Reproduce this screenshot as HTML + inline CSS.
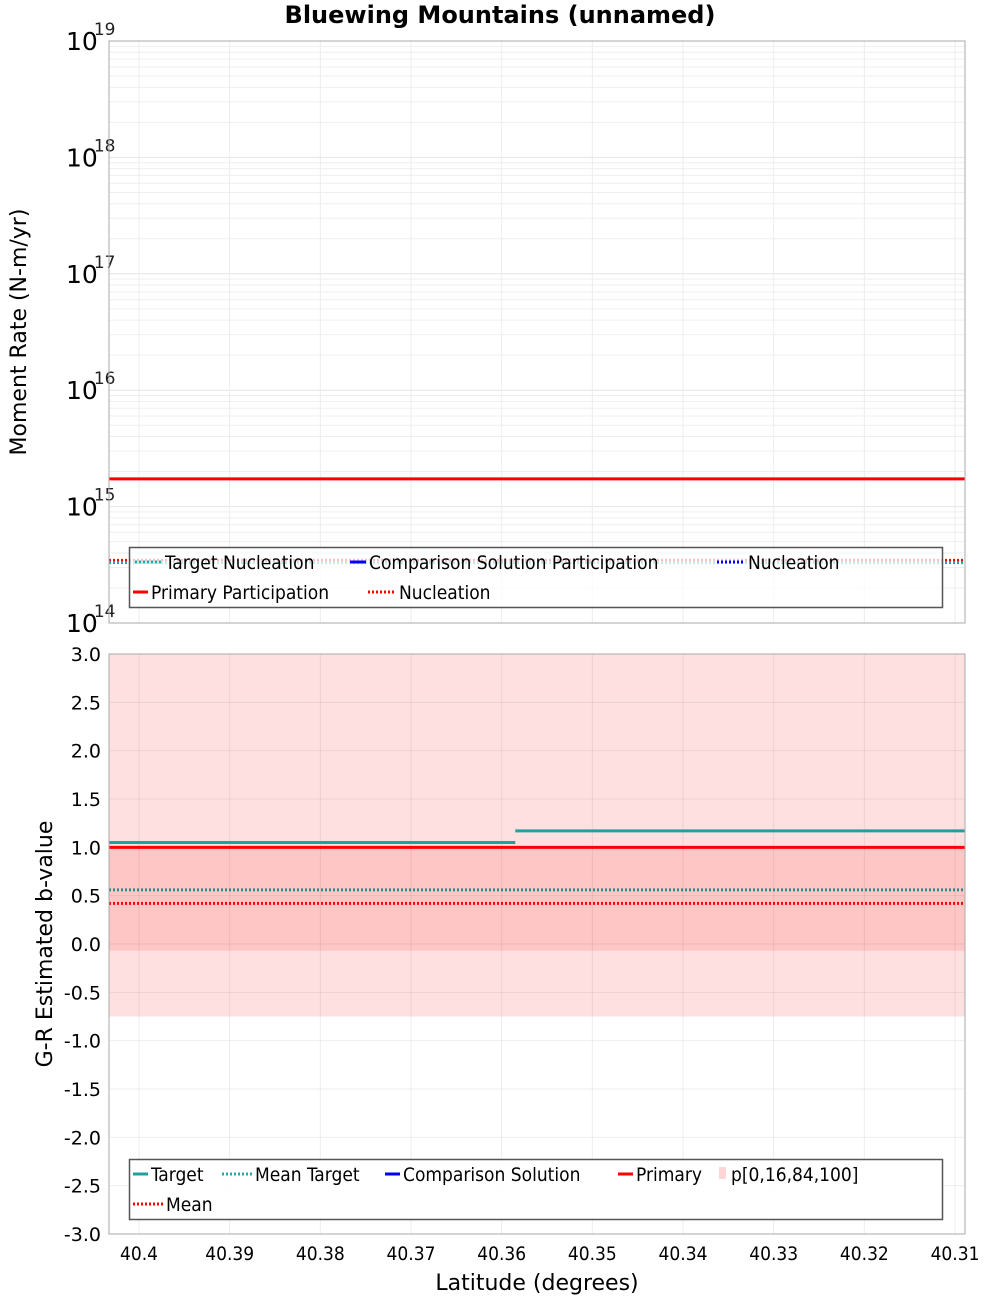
<!DOCTYPE html>
<html><head><meta charset="utf-8"><style>
body{margin:0;background:#fff;}
svg{display:block;font-family:"DejaVu Sans","Liberation Sans",sans-serif;}
.leg{font-family:"DejaVu Sans Condensed","DejaVu Sans",sans-serif;font-size:19px;}
</style></head><body>
<svg id="chart" width="1000" height="1300" viewBox="0 0 1000 1300" xmlns="http://www.w3.org/2000/svg">
<text x="500" y="23" text-anchor="middle" font-weight="bold" font-size="24">Bluewing Mountains (unnamed)</text>
<g id="topPlot"></g><g id="botPlot"></g>
<text transform="translate(26,332) rotate(-90)" text-anchor="middle" font-size="22">Moment Rate (N-m/yr)</text>
<text transform="translate(52,944) rotate(-90)" text-anchor="middle" font-size="22">G-R Estimated b-value</text>
<text x="537" y="1290" text-anchor="middle" font-size="22">Latitude (degrees)</text>
</svg>
<script>
const xTicks=[40.4,40.39,40.38,40.37,40.36,40.35,40.34,40.33,40.32,40.31];
const xTickLabels=["40.4","40.39","40.38","40.37","40.36","40.35","40.34","40.33","40.32","40.31"];
const topDecades=[14,15,16,17,18,19];
const primaryParticipation=1.73e15;
const primaryNucleation=3.45e14;
const targetNucleation=3.3e14;
const bTicks=[3.0,2.5,2.0,1.5,1.0,0.5,0.0,-0.5,-1.0,-1.5,-2.0,-2.5,-3.0];
const bTickLabels=["3.0","2.5","2.0","1.5","1.0","0.5","0.0","-0.5","-1.0","-1.5","-2.0","-2.5","-3.0"];
const targetSegStarts=[40.4033,40.3585];
const targetSegEnds=[40.3585,40.3089];
const targetB=[1.05,1.17];
const primaryB=1.0;
const meanTargetB=0.56;
const meanPrimaryB=0.42;
const bandOuter=[3.0,-0.75];
const bandInner=[1.0,-0.07];

const NS="http://www.w3.org/2000/svg";
const L=109,R=965;
const xs=v=>139+(40.4-v)/0.01*90.67;
const T0=41,T1=623;
const ty=v=>T1-(Math.log10(v)-14)*(T1-T0)/5;
const B0=654,B1=1234;
const by=v=>B0+(3-v)*(B1-B0)/6;
function mk(p,tag,at,name,txt){const e=document.createElementNS(NS,tag);for(const k in at)e.setAttribute(k,at[k]);


if(txt!==undefined)e.textContent=txt;p.appendChild(e);return e;}
const topG=document.getElementById('topPlot'),botG=document.getElementById('botPlot');
for(const d of topDecades){for(let m=1;m<10;m++){if(d===19&&m>1)break;const y=ty(m*Math.pow(10,d));
mk(topG,'line',{x1:L,x2:R,y1:y,y2:y,stroke:m===1?'#e4e4e4':'#efefef','stroke-width':1},'top-grid-line');}}
for(const v of xTicks){const x=xs(v);mk(topG,'line',{x1:x,x2:x,y1:T0,y2:T1,stroke:'#ececec'},'top-x-grid-line');}
for(const d of topDecades){const y=ty(Math.pow(10,d));
const t=mk(topG,'text',{x:66,y:y+9,'font-size':25},'top-y-tick-label');t.textContent='10';
mk(t,'tspan',{dx:-4,dy:-15,'font-size':17,fill:'#222'},'top-y-tick-exponent',String(d));}
mk(topG,'line',{x1:L,x2:R,y1:ty(primaryNucleation),y2:ty(primaryNucleation),stroke:'#f00','stroke-width':3,'stroke-dasharray':'2 2'},'primary-nucleation-line');
mk(topG,'line',{x1:L,x2:R,y1:ty(targetNucleation),y2:ty(targetNucleation),stroke:'#2aa8a8','stroke-width':3,'stroke-dasharray':'2 2'},'target-nucleation-line');
mk(topG,'line',{x1:L,x2:R,y1:ty(primaryParticipation),y2:ty(primaryParticipation),stroke:'#f00','stroke-width':3},'primary-participation-line');
mk(topG,'rect',{x:L,y:T0,width:R-L,height:T1-T0,fill:'none',stroke:'#aaa'},'top-plot-frame');
const lg=mk(topG,'g',{class:'leg'},'top-legend');
mk(lg,'rect',{x:129.5,y:547.5,width:813,height:60,fill:'rgba(255,255,255,0.75)',stroke:'#555','stroke-width':1.5},'top-legend-box');
const tl=[[135,562,'#2aa8a8','2 2','Target Nucleation',165],[350,562,'#00f',null,'Comparison Solution Participation',369],[717,562,'#00f','2 2','Nucleation',748],[133,592,'#f00',null,'Primary Participation',151],[368,592,'#f00','2 2','Nucleation',399]];
for(const e of tl){const at={x1:e[0],x2:e[5]-3,y1:e[1],y2:e[1],stroke:e[2],'stroke-width':3};if(e[3])at['stroke-dasharray']=e[3];
mk(lg,'line',at,'legend-swatch');mk(lg,'text',{x:e[5],y:e[1]+7},'legend-entry',e[4]);}
mk(botG,'rect',{x:L,y:by(bandOuter[0]),width:R-L,height:by(bandOuter[1])-by(bandOuter[0]),fill:'#ffe0e0'},'percentile-band-outer');
mk(botG,'rect',{x:L,y:by(bandInner[0]),width:R-L,height:by(bandInner[1])-by(bandInner[0]),fill:'#ffc6c6'},'percentile-band-inner');
for(let i=0;i<bTicks.length;i++){const y=by(bTicks[i]);
mk(botG,'line',{x1:L,x2:R,y1:y,y2:y,stroke:'rgba(0,0,0,0.07)'},'bottom-y-grid-line');
mk(botG,'text',{x:101,y:y+7,'text-anchor':'end','font-size':19},'bottom-y-tick-label',bTickLabels[i]);}
for(let i=0;i<xTicks.length;i++){const x=xs(xTicks[i]);
mk(botG,'line',{x1:x,x2:x,y1:B0,y2:B1,stroke:'rgba(0,0,0,0.07)'},'bottom-x-grid-line');
mk(botG,'text',{x:x,y:1260,'text-anchor':'middle','font-size':19,class:'leg'},'x-tick-label',xTickLabels[i]);}
mk(botG,'line',{x1:L,x2:R,y1:by(meanTargetB),y2:by(meanTargetB),stroke:'#2a8c8c','stroke-width':3,'stroke-dasharray':'2 2'},'mean-target-line');
mk(botG,'line',{x1:L,x2:R,y1:by(meanPrimaryB),y2:by(meanPrimaryB),stroke:'#f00','stroke-width':3,'stroke-dasharray':'2 2'},'mean-primary-line');
mk(botG,'line',{x1:L,x2:R,y1:by(primaryB),y2:by(primaryB),stroke:'#f00','stroke-width':3},'primary-b-line');
for(let i=0;i<targetB.length;i++){mk(botG,'line',{x1:xs(targetSegStarts[i]),x2:xs(targetSegEnds[i]),y1:by(targetB[i]),y2:by(targetB[i]),stroke:'#20a0a0','stroke-width':3},'target-b-segment');}
mk(botG,'rect',{x:L,y:B0,width:R-L,height:B1-B0,fill:'none',stroke:'#aaa'},'bottom-plot-frame');
const lb=mk(botG,'g',{class:'leg'},'bottom-legend');
mk(lb,'rect',{x:129.5,y:1159.5,width:813,height:60,fill:'rgba(255,255,255,0.85)',stroke:'#555','stroke-width':1.5},'bottom-legend-box');
const bl=[[133,1174,'#20a0a0',null,'Target',151],[222,1174,'#2aa8a8','2 2','Mean Target',255],[385,1174,'#00f',null,'Comparison Solution',403],[618,1174,'#f00',null,'Primary',636],[133,1204,'#f00','2 2','Mean',166]];
for(const e of bl){const at={x1:e[0],x2:e[5]-3,y1:e[1],y2:e[1],stroke:e[2],'stroke-width':3};if(e[3])at['stroke-dasharray']=e[3];
mk(lb,'line',at,'legend-swatch');mk(lb,'text',{x:e[5],y:e[1]+7},'legend-entry',e[4]);}
mk(lb,'rect',{x:719,y:1167,width:7,height:12,fill:'#ffd6d6'},'legend-swatch');
mk(lb,'text',{x:731,y:1181},'legend-entry','p[0,16,84,100]');
</script>
</body></html>
